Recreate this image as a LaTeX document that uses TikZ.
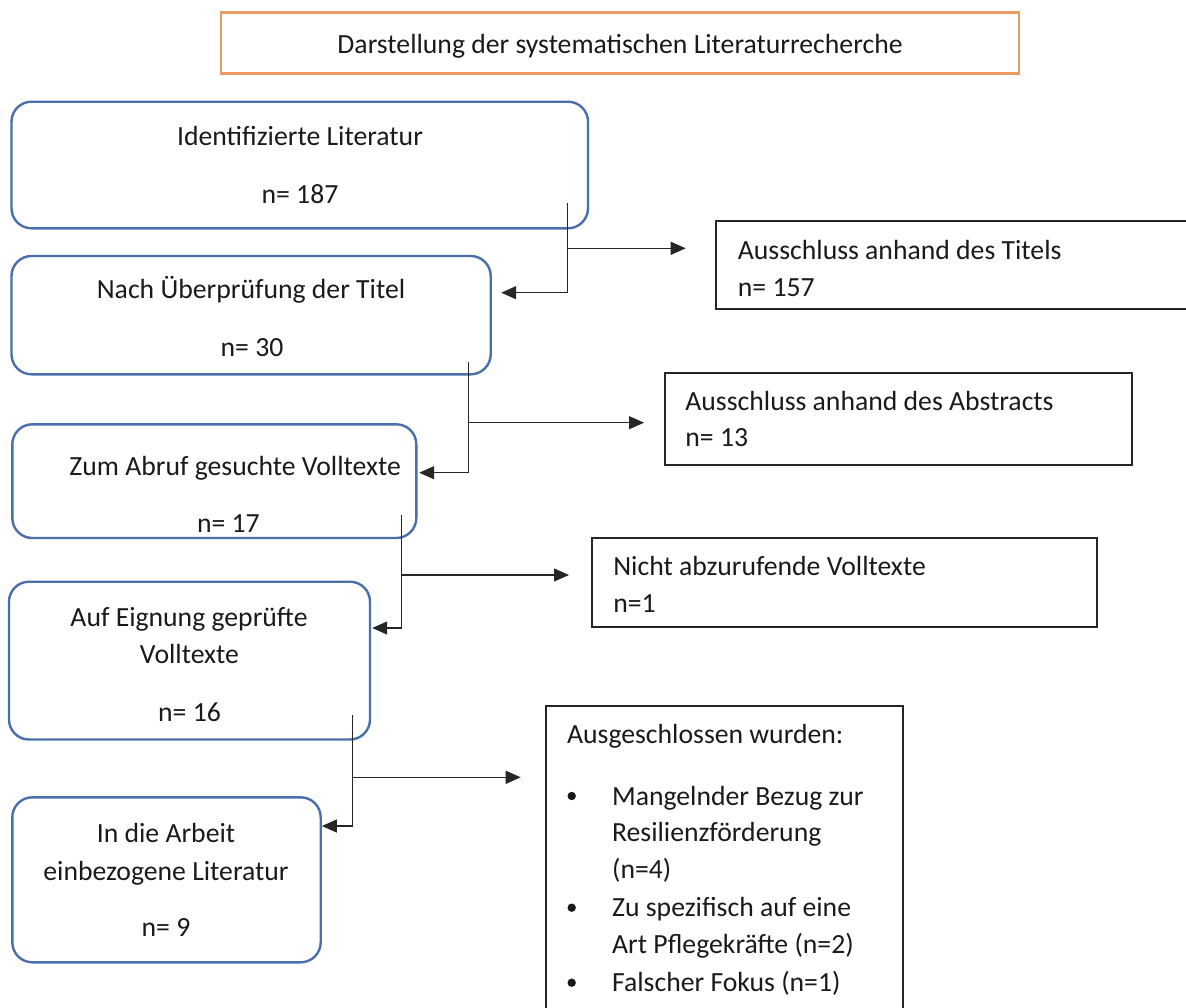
\documentclass[tikz,border=0pt]{standalone}
\usepackage{fontspec}
\setmainfont{Carlito}
\usetikzlibrary{arrows.meta,fit,calc}
\definecolor{boxblue}{HTML}{4A6FAA}
\definecolor{titleorange}{HTML}{EA9A62}
\definecolor{ink}{HTML}{1A1A1A}
\begin{document}
\begin{tikzpicture}[x=0.5pt,y=-0.5pt,
  txt/.style={font=\fontsize{13.85pt}{18.7pt}\selectfont, text=ink, inner sep=0pt},
  bluebox/.style={draw=boxblue, line width=1.2pt, rounded corners=10pt, inner sep=0pt},
  blackbox/.style={draw=black!85, line width=1pt, inner sep=0pt},
  titlebox/.style={draw=titleorange, line width=1.1pt, inner sep=0pt},
  conn/.style={draw=black!85, line width=0.65pt},
  arr/.style={conn, -{Triangle[length=7.5pt,width=6.5pt]}},
  dot/.style={circle, fill=ink, inner sep=0pt, minimum size=4.2pt}]
\useasboundingbox (0,0) rectangle (1186,1007);

% title
\node[titlebox, fit={(221,12.5) (1019,73.5)}] (title) {};
\node[txt, anchor=base] (titletxt) at (620,53) {Darstellung der systematischen Literaturrecherche};

% left boxes
\node[bluebox, fit={(11.5,101.7) (588,228.3)}] (b1) {};
\node[txt, anchor=base] (b1a) at (300,145.5) {Identifizierte Literatur};
\node[txt, anchor=base] (b1b) at (300,203.3) {n= 187};

\node[bluebox, fit={(11.5,256) (490.7,374.3)}] (b2) {};
\node[txt, anchor=base] (b2a) at (251,298.3) {Nach Überprüfung der Titel};
\node[txt, anchor=base] (b2b) at (252,356) {n= 30};

\node[bluebox, fit={(12.3,424.3) (416.3,538)}] (b3) {};
\node[txt, anchor=base west] (b3a) at (69,475) {Zum Abruf gesuchte Volltexte};
\node[txt, anchor=base west] (b3b) at (196.7,532.7) {n= 17};

\node[bluebox, fit={(9,581.7) (370,739.5)}] (b4) {};
\node[txt, anchor=base] (b4a) at (189,626.7) {Auf Eignung geprüfte};
\node[txt, anchor=base] (b4b) at (189.5,663.3) {Volltexte};
\node[txt, anchor=base] (b4c) at (189.5,721.7) {n= 16};

\node[bluebox, fit={(12.3,797.3) (320.7,962.3)}] (b5) {};
\node[txt, anchor=base] (b5a) at (166,842.7) {In die Arbeit};
\node[txt, anchor=base] (b5b) at (166,880) {einbezogene Literatur};
\node[txt, anchor=base] (b5c) at (166,936.7) {n= 9};

% right boxes
\node[blackbox, fit={(716,221) (1200,309)}] (r1) {};
\node[txt, anchor=base west] (r1a) at (737.5,259.3) {Ausschluss anhand des Titels};
\node[txt, anchor=base west] (r1b) at (737.5,296.7) {n= 157};

\node[blackbox, fit={(665,372.7) (1132,465)}] (r2) {};
\node[txt, anchor=base west] (r2a) at (685,410) {Ausschluss anhand des Abstracts};
\node[txt, anchor=base west] (r2b) at (685,446.7) {n= 13};

\node[blackbox, fit={(592,537.5) (1097,626.5)}] (r3) {};
\node[txt, anchor=base west] (r3a) at (612.9,575) {Nicht abzurufende Volltexte};
\node[txt, anchor=base west] (r3b) at (612.9,612.7) {n=1};

\node[blackbox, fit={(546,706) (902.7,1030)}] (r4) {};
\node[txt, anchor=base west] (r4h) at (566.7,743.3) {Ausgeschlossen wurden:};
\node[dot] (d1) at (571.7,796) {};
\node[txt, anchor=base west] (r4a) at (611.7,805) {Mangelnder Bezug zur};
\node[txt, anchor=base west] (r4b) at (611.7,841.7) {Resilienzförderung};
\node[txt, anchor=base west] (r4c) at (611.7,878) {(n=4)};
\node[dot] (d2) at (571.7,907.7) {};
\node[txt, anchor=base west] (r4d) at (611.7,916.7) {Zu spezifisch auf eine};
\node[txt, anchor=base west] (r4e) at (611.7,953) {Art Pflegekräfte (n=2)};
\node[dot] (d3) at (571.7,982.7) {};
\node[txt, anchor=base west] (r4f) at (611.7,991.7) {Falscher Fokus (n=1)};

% connectors
\coordinate (v1t) at (567.7,202.7);
\coordinate (v1m) at (567.7,248.3);
\coordinate (v1b) at (567.7,292.7);
\draw[conn] (v1t) -- (v1b);
\draw[arr] (v1m) -- ($(r1.west |- v1m)+(-29.3,0)$);
\draw[arr] (v1b) -- ($(b2.east |- v1b)+(9.3,0)$);

\coordinate (v2t) at (468.3,361.7);
\coordinate (v2m) at (468.3,422.7);
\coordinate (v2b) at (468.3,472.7);
\draw[conn] (v2t) -- (v2b);
\draw[arr] (v2m) -- ($(r2.west |- v2m)+(-20,0)$);
\draw[arr] (v2b) -- ($(b3.east |- v2b)+(1.7,0)$);

\coordinate (v3t) at (401.7,515);
\coordinate (v3m) at (401.7,575);
\coordinate (v3b) at (401.7,628);
\draw[conn] (v3t) -- (v3b);
\draw[arr] (v3m) -- ($(r3.west |- v3m)+(-22,0)$);
\draw[arr] (v3b) -- ($(b4.east |- v3b)+(1,0)$);

\coordinate (v4t) at (352.7,715);
\coordinate (v4m) at (352.7,777.3);
\coordinate (v4b) at (352.7,826);
\draw[conn] (v4t) -- (v4b);
\draw[arr] (v4m) -- ($(r4.west |- v4m)+(-24.3,0)$);
\draw[arr] (v4b) -- (b5.east |- v4b);
\end{tikzpicture}
\end{document}
